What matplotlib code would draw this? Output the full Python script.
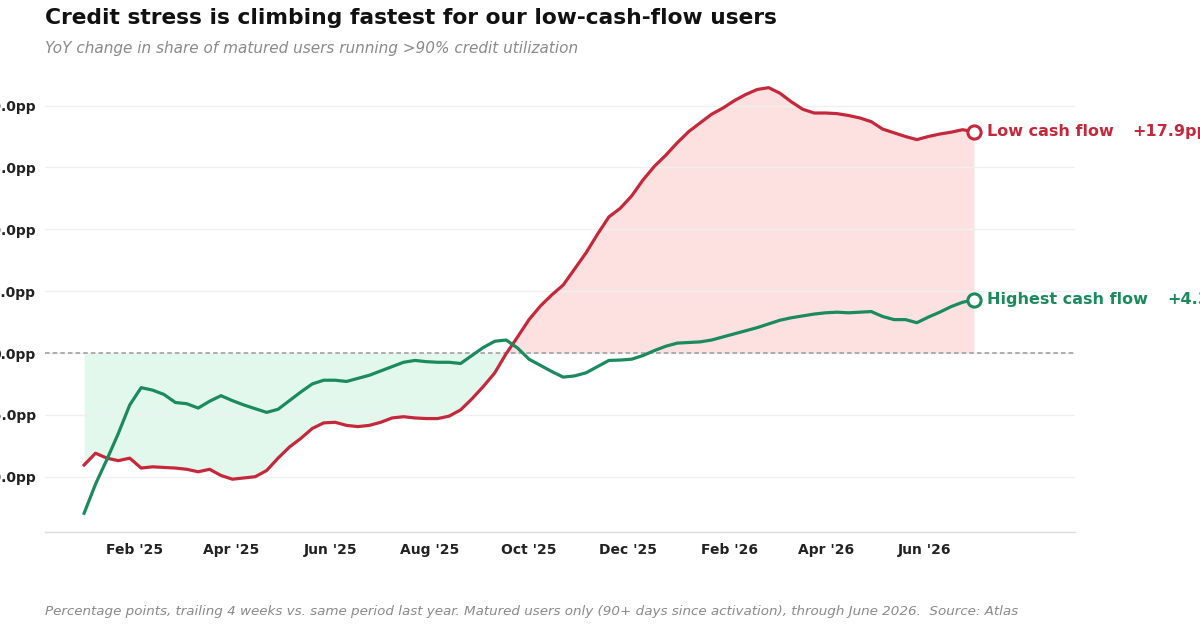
import numpy as np
import pandas as pd
import matplotlib
matplotlib.use("Agg")
import matplotlib.pyplot as plt
import matplotlib.dates as mdates
from matplotlib.ticker import FixedLocator

# ---- data ----
start_date = "2025-01-01"
n_weeks = 79
low_cash_flow = [
    -9.05, -8.1, -8.5, -8.7, -8.5, -9.3, -9.2, -9.25, -9.3, -9.4,
    -9.6, -9.4, -9.9, -10.2, -10.1, -10.0, -9.5, -8.5, -7.6, -6.9,
    -6.1, -5.65, -5.6, -5.85, -5.95, -5.85, -5.6, -5.25, -5.15, -5.25,
    -5.3, -5.3, -5.1, -4.6, -3.7, -2.7, -1.6, -0.05, 1.3, 2.7,
    3.8, 4.7, 5.5, 6.8, 8.1, 9.6, 11.0, 11.7, 12.7, 14.0,
    15.1, 16.0, 17.0, 17.9, 18.6, 19.3, 19.8, 20.4, 20.9, 21.3,
    21.45, 21.0, 20.3, 19.7, 19.4, 19.4, 19.35, 19.2, 19.0, 18.7,
    18.1, 17.8, 17.5, 17.25, 17.5, 17.7, 17.85, 18.05, 17.9,
]
highest_cash_flow = [
    -12.95, -10.6, -8.6, -6.5, -4.2, -2.8, -3.0, -3.35, -4.0, -4.1,
    -4.45, -3.9, -3.45, -3.85, -4.2, -4.5, -4.8, -4.55, -3.85, -3.15,
    -2.5, -2.2, -2.2, -2.3, -2.05, -1.8, -1.45, -1.1, -0.75, -0.6,
    -0.7, -0.75, -0.75, -0.85, -0.2, 0.45, 0.95, 1.05, 0.4, -0.5,
    -1.0, -1.5, -1.95, -1.85, -1.6, -1.1, -0.6, -0.57, -0.5, -0.2,
    0.2, 0.55, 0.8, 0.85, 0.9, 1.05, 1.3, 1.55, 1.8, 2.05,
    2.35, 2.65, 2.85, 3.0, 3.15, 3.25, 3.3, 3.25, 3.3, 3.35,
    2.95, 2.7, 2.7, 2.45, 2.9, 3.3, 3.75, 4.1, 4.3,
]
series_names = ["Low cash flow", "Highest cash flow"]
end_labels = ["+17.9pp", "+4.3pp"]
y_ticks = [-10, -5, 0, 5, 10, 15, 20]
x_tick_dates = ["2025-02-01", "2025-04-01", "2025-06-01", "2025-08-01", "2025-10-01",
                "2025-12-01", "2026-02-01", "2026-04-01", "2026-06-01"]
x_tick_labels = ["Feb '25", "Apr '25", "Jun '25", "Aug '25", "Oct '25",
                 "Dec '25", "Feb '26", "Apr '26", "Jun '26"]

title = "Credit stress is climbing fastest for our low-cash-flow users"
subtitle = "YoY change in share of matured users running >90% credit utilization"
footer = ("Percentage points, trailing 4 weeks vs. same period last year. Matured users only "
          "(90+ days since activation), through June 2026.  Source: Atlas")

RED = "#c6283b"
GREEN = "#1b8a5c"
RED_FILL = "#fde1e1"
GREEN_FILL = "#e2f8ec"

dates = pd.date_range(start_date, periods=n_weeks, freq="7D")
red = np.array(low_cash_flow)
green = np.array(highest_cash_flow)

fig = plt.figure(figsize=(12, 6.29), dpi=100)
fig.patch.set_facecolor("white")
ax = fig.add_axes([0.0375, 0.1536, 0.8583, 0.7277])
ax.set_facecolor("white")

# fills
ax.fill_between(dates, 0, red, where=red <= 0, interpolate=True,
                color=GREEN_FILL, lw=0, zorder=1)
ax.fill_between(dates, 0, red, where=red >= 0, interpolate=True,
                color=RED_FILL, lw=0, zorder=1)

ax.axhline(0, color="#9a9a9a", lw=1.1, ls=(0, (3, 2)), zorder=2)

ax.plot(dates, red, color=RED, lw=2.3, zorder=4, solid_joinstyle="round")
ax.plot(dates, green, color=GREEN, lw=2.3, zorder=4, solid_joinstyle="round")

ax.set_ylim(-14.5, 22.5)
ax.set_xlim(dates[0] - pd.Timedelta(days=24), dates[-1] + pd.Timedelta(days=62))

ax.set_yticks(y_ticks)
ax.set_yticklabels([("0.0pp" if v == 0 else f"{v:+.1f}pp") for v in y_ticks])
ax.xaxis.set_major_locator(FixedLocator(mdates.date2num(pd.to_datetime(x_tick_dates))))
ax.set_xticklabels(x_tick_labels)

ax.tick_params(axis="both", length=0, labelsize=10, labelcolor="#222222")
ax.tick_params(axis="y", pad=6.5)
ax.tick_params(axis="x", pad=8)
for lbl in ax.get_xticklabels() + ax.get_yticklabels():
    lbl.set_fontweight("bold")

ax.grid(axis="y", color="#f0f0f0", lw=1.0, zorder=0)
ax.grid(axis="x", visible=False)
for s in ["top", "right", "left"]:
    ax.spines[s].set_visible(False)
ax.spines["bottom"].set_color("#dcdcdc")
ax.spines["bottom"].set_linewidth(1.0)

name_texts = []
for vals, col, name in [(red, RED, series_names[0]), (green, GREEN, series_names[1])]:
    ax.plot([dates[-1]], [vals[-1]], marker="o", ms=9.5, mfc="white",
            mec=col, mew=2.2, zorder=5, clip_on=False)
    t = ax.annotate(name, xy=(dates[-1], vals[-1]), xytext=(13, 0),
                    textcoords="offset pixels", ha="left", va="center",
                    fontsize=11.5, fontweight="bold", color=col,
                    annotation_clip=False)
    name_texts.append(t)

fig.text(45 / 1200, 1 - 18 / 629, title, fontsize=15.7, fontweight="bold",
         color="#111111", ha="left", va="center")
fig.text(45 / 1200, 1 - 49 / 629, subtitle, fontsize=11, style="italic",
         color="#8a8a8a", ha="left", va="center")
fig.text(45 / 1200, 1 - 612 / 629, footer, fontsize=9.7, style="italic",
         color="#8a8a8a", ha="left", va="center")

fig.canvas.draw()
renderer = fig.canvas.get_renderer()
for t, vals, col, lab in zip(name_texts, [red, green], [RED, GREEN], end_labels):
    bb = t.get_window_extent(renderer)
    x0 = ax.transData.transform((mdates.date2num(dates[-1]), vals[-1]))[0]
    ax.annotate(lab, xy=(dates[-1], vals[-1]), xytext=(bb.x1 - x0 + 19, 0),
                textcoords="offset pixels", ha="left", va="center",
                fontsize=11.5, fontweight="bold", color=col,
                annotation_clip=False)

fig.savefig("out.png", dpi=100)
